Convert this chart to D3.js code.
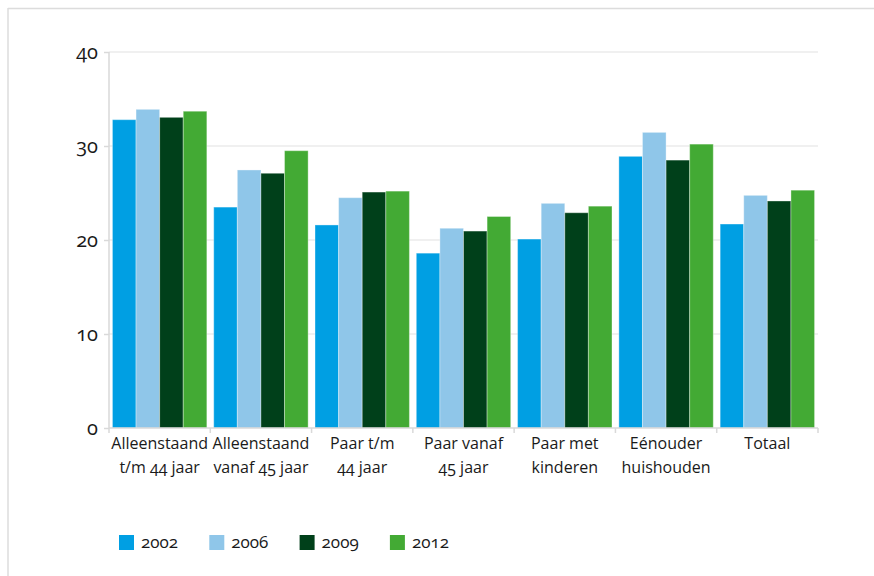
<!DOCTYPE html>
<html>
<head>
<meta charset="utf-8">
<script src="https://cdn.jsdelivr.net/npm/d3@7"></script>
<style>
  html, body { margin: 0; padding: 0; background: #fff; }
  svg { display: block; }
  text { font-family: "Open Sans", "Noto Sans", sans-serif; fill: #1a1a1a; }
</style>
</head>
<body>
<svg id="chart" width="874" height="576"></svg>
<script>
const categories = [
  ["Alleenstaand", "t/m 44 jaar"],
  ["Alleenstaand", "vanaf 45 jaar"],
  ["Paar t/m", "44 jaar"],
  ["Paar vanaf", "45 jaar"],
  ["Paar met", "kinderen"],
  ["Eénouder", "huishouden"],
  ["Totaal"]
];
const years = ["2002", "2006", "2009", "2012"];
const values2002 = [32.8, 23.5, 21.6, 18.6, 20.1, 28.9, 21.7];
const values2006 = [33.9, 27.45, 24.5, 21.25, 23.9, 31.45, 24.75];
const values2009 = [33.05, 27.1, 25.1, 20.95, 22.9, 28.5, 24.15];
const values2012 = [33.7, 29.5, 25.2, 22.5, 23.6, 30.2, 25.3];
const yTicks = [0, 10, 20, 30, 40];
const colors = ["#009fe3", "#8fc6e9", "#00401a", "#43aa34"];

const series = [values2002, values2006, values2009, values2012];
const svg = d3.select("#chart");

// frame
svg.append("line").attr("x1", 8).attr("x2", 874).attr("y1", 8.5).attr("y2", 8.5)
  .attr("stroke", "#dcdcdc").attr("stroke-width", 1.5);
svg.append("line").attr("x1", 8).attr("x2", 8).attr("y1", 8).attr("y2", 576)
  .attr("stroke", "#dcdcdc").attr("stroke-width", 1.5);

const pLeft = 109, pRight = 818, pTop = 52, pBottom = 428;
const x = d3.scaleBand().domain(d3.range(categories.length)).range([pLeft, pRight])
  .paddingInner(0.068).paddingOuter(0.034);
const xSlot = d3.scaleLinear().domain([0, categories.length]).range([pLeft, pRight]);
const x1 = d3.scaleBand().domain(years).range([0, x.bandwidth()]);
const y = d3.scaleLinear().domain([0, 40]).range([pBottom, pTop]);

// gridlines
svg.append("g").selectAll("line").data(yTicks.filter(d => d > 0)).join("line")
  .attr("x1", pLeft).attr("x2", pRight)
  .attr("y1", d => y(d)).attr("y2", d => y(d))
  .attr("stroke", "#ebebeb").attr("stroke-width", 1.5);

// bars
const groups = svg.append("g").selectAll("g").data(categories).join("g")
  .attr("transform", (d, i) => `translate(${x(i)},0)`);
groups.selectAll("rect").data((d, i) => years.map((yr, k) => ({ yr, k, v: series[k][i] })))
  .join("rect")
  .attr("x", d => x1(d.yr)).attr("width", x1.bandwidth())
  .attr("y", d => y(d.v)).attr("height", d => y(0) - y(d.v))
  .attr("fill", d => colors[d.k])
  .attr("stroke", "rgba(255,255,255,0.35)").attr("stroke-width", 1);

// y axis
const yAxis = d3.axisLeft(y).tickValues(yTicks).tickSize(5).tickPadding(6);
const gy = svg.append("g").attr("transform", `translate(${pLeft},0)`).call(yAxis);
gy.select(".domain").attr("stroke", "#d9d9d9").attr("stroke-width", 1.5).attr("d", `M0,${pBottom}V${pTop}`);
gy.selectAll(".tick line").attr("stroke", "#d9d9d9").attr("stroke-width", 1.5);
gy.selectAll(".tick text").attr("font-size", 20).attr("fill", "#1a1a1a")
  .attr("font-family", "'Open Sans', sans-serif")
  .style("font-feature-settings", "'onum'");

// x axis
const gx = svg.append("g").attr("transform", `translate(0,${pBottom})`);
gx.append("line").attr("x1", pLeft).attr("x2", pRight).attr("stroke", "#d9d9d9").attr("stroke-width", 1.5);
gx.selectAll("line.tk").data(d3.range(categories.length + 1)).join("line").attr("class", "tk")
  .attr("x1", d => xSlot(d)).attr("x2", d => xSlot(d)).attr("y1", 0).attr("y2", 5)
  .attr("stroke", "#d9d9d9").attr("stroke-width", 1.5);
const lbl = gx.selectAll("text").data(categories).join("text")
  .attr("text-anchor", "middle")
  .attr("font-size", 16)
  .attr("x", (d, i) => x(i) + x.bandwidth() / 2)
  .style("font-feature-settings", "'onum'");
lbl.selectAll("tspan").data(d => d).join("tspan")
  .attr("x", function () { return d3.select(this.parentNode).attr("x"); })
  .attr("y", (d, j) => 21 + j * 24)
  .text(d => d);

// legend
const leg = svg.append("g").selectAll("g").data(years).join("g")
  .attr("transform", (d, i) => `translate(${119 + i * 90.3},535)`);
leg.append("rect").attr("width", 15).attr("height", 15).attr("fill", (d, i) => colors[i]);
leg.append("text").attr("x", 22).attr("y", 13).attr("font-size", 17)
  .style("font-feature-settings", "'onum'").text(d => d);
</script>
</body>
</html>
